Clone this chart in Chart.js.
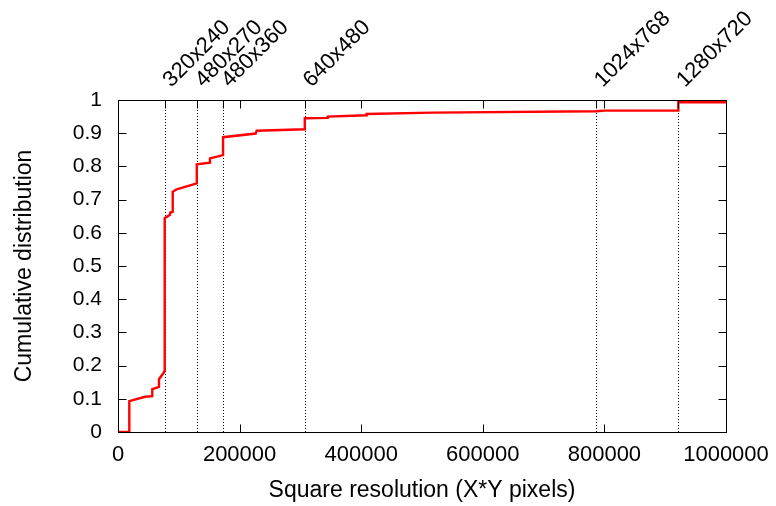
<!DOCTYPE html>
<html>
<head>
<meta charset="utf-8">
<script src="https://cdn.jsdelivr.net/npm/chart.js@4/dist/chart.umd.min.js"></script>
<style>
  body { margin: 0; background: #fff; }
  canvas { display: block; }
</style>
</head>
<body>
<canvas id="cdf" width="776" height="506"></canvas>
<script>
// square resolution (X*Y) where the cdf changes, and cdf value there
var pixels = [0, 18600, 18600, 44400, 56400, 56400, 67400, 67400, 74500, 76800,
    76800, 85500, 86000, 90000, 90000, 96500, 129600, 129600, 151300, 151300,
    172800, 172800, 226500, 228000, 307200, 307200, 345000, 345000, 409000, 409000,
    518000, 786432, 800000, 921600, 921600, 1000000];
var cdf = [0, 0, 0.093, 0.106, 0.108, 0.129, 0.136, 0.159, 0.177, 0.184,
    0.644, 0.654, 0.661, 0.663, 0.724, 0.731, 0.749, 0.806, 0.811, 0.824,
    0.834, 0.888, 0.899, 0.9075, 0.912, 0.945, 0.946, 0.950, 0.954, 0.958,
    0.962, 0.966, 0.968, 0.968, 0.993, 0.993];

// common video resolutions marked on the top axis
var resNames = ['320x240', '480x270', '480x360', '640x480', '1024x768', '1280x720'];
var resValues = [76800, 129600, 172800, 307200, 786432, 921600];

var xTicks = [0, 200000, 400000, 600000, 800000, 1000000];
var yTicks = [0, 0.1, 0.2, 0.3, 0.4, 0.5, 0.6, 0.7, 0.8, 0.9, 1];

var FONT = 'Liberation Sans, Arial, sans-serif';
var TICK = 8;

var points = pixels.map(function (x, i) {
    return { x: x, y: cdf[i] };
});

// gnuplot look: dotted resolution lines, inward ticks, full frame
var gnuplotFrame = {
    id: 'gnuplotFrame',
    beforeDatasetsDraw: function (chart) {
        var ctx = chart.ctx;
        var a = chart.chartArea;
        var x = chart.scales.x;
        ctx.save();
        ctx.strokeStyle = '#000';
        ctx.lineWidth = 1;
        ctx.setLineDash([1, 2]);
        resValues.forEach(function (v) {
            var px = Math.round(x.getPixelForValue(v)) + 0.5;
            ctx.beginPath();
            ctx.moveTo(px, a.bottom);
            ctx.lineTo(px, a.top);
            ctx.stroke();
        });
        ctx.restore();
    },
    afterDraw: function (chart) {
        var ctx = chart.ctx;
        var a = chart.chartArea;
        var x = chart.scales.x;
        var y = chart.scales.y;
        var l = Math.round(a.left) + 0.5, r = Math.round(a.right) + 0.5;
        var t = Math.round(a.top) + 0.5, b = Math.round(a.bottom) + 0.5;
        ctx.save();
        ctx.strokeStyle = '#000';
        ctx.lineWidth = 1;
        ctx.beginPath();
        xTicks.forEach(function (v) {
            var px = Math.round(x.getPixelForValue(v)) + 0.5;
            ctx.moveTo(px, b); ctx.lineTo(px, b - TICK);
            ctx.moveTo(px, t); ctx.lineTo(px, t + TICK);
        });
        resValues.forEach(function (v) {
            var px = Math.round(x.getPixelForValue(v)) + 0.5;
            ctx.moveTo(px, t); ctx.lineTo(px, t + TICK);
        });
        yTicks.forEach(function (v) {
            var py = Math.round(y.getPixelForValue(v)) + 0.5;
            ctx.moveTo(l, py); ctx.lineTo(l + TICK, py);
            ctx.moveTo(r, py); ctx.lineTo(r - TICK, py);
        });
        ctx.stroke();
        ctx.strokeRect(l, t, r - l, b - t);
        ctx.restore();
    }
};

var chart = new Chart(document.getElementById('cdf'), {
    type: 'line',
    data: {
        datasets: [{
            data: points,
            borderColor: '#ff0000',
            borderWidth: 2.4,
            pointRadius: 0,
            tension: 0,
            fill: false
        }]
    },
    options: {
        responsive: false,
        animation: false,
        layout: { padding: { left: 0, right: 50, top: 0, bottom: 0 } },
        plugins: { legend: { display: false }, tooltip: { enabled: false } },
        scales: {
            x: {
                type: 'linear',
                position: 'bottom',
                min: 0,
                max: 1000000,
                afterFit: function (s) {
                    s.height = 74;
                    // the last tick label may hang into the right margin
                    s.paddingLeft = 0;
                    s.paddingRight = 0;
                },
                afterBuildTicks: function (s) {
                    s.ticks = xTicks.map(function (v) { return { value: v }; });
                },
                grid: { display: false, drawTicks: false },
                border: { display: false },
                ticks: {
                    color: '#000',
                    padding: 10,
                    maxRotation: 0,
                    font: { family: FONT, size: 22 },
                    callback: function (v) { return String(v); }
                },
                title: {
                    display: true,
                    text: 'Square resolution (X*Y pixels)',
                    color: '#000',
                    padding: { top: 0, bottom: 2 },
                    font: { family: FONT, size: 23 }
                }
            },
            x2: {
                type: 'linear',
                position: 'top',
                min: 0,
                max: 1000000,
                afterFit: function (s) {
                    s.height = 100;
                    s.paddingLeft = 0;
                    s.paddingRight = 0;
                },
                afterBuildTicks: function (s) {
                    s.ticks = resValues.map(function (v) { return { value: v }; });
                },
                grid: { display: false, drawTicks: false },
                border: { display: false },
                ticks: {
                    color: '#000',
                    padding: 7,
                    labelOffset: 21,
                    autoSkip: false,
                    minRotation: 45,
                    maxRotation: 45,
                    font: { family: FONT, size: 22 },
                    callback: function (v, i) { return resNames[i]; }
                }
            },
            y: {
                type: 'linear',
                position: 'left',
                min: 0,
                max: 1,
                afterFit: function (s) { s.width = 118; },
                afterBuildTicks: function (s) {
                    s.ticks = yTicks.map(function (v) { return { value: v }; });
                },
                grid: { display: false, drawTicks: false },
                border: { display: false },
                ticks: {
                    color: '#000',
                    padding: 16,
                    font: { family: FONT, size: 21 },
                    callback: function (v) { return String(Math.round(v * 10) / 10); }
                },
                title: {
                    display: true,
                    text: 'Cumulative distribution',
                    color: '#000',
                    padding: { top: 11, bottom: 0 },
                    font: { family: FONT, size: 23 }
                }
            }
        }
    },
    plugins: [gnuplotFrame]
});
</script>
</body>
</html>
